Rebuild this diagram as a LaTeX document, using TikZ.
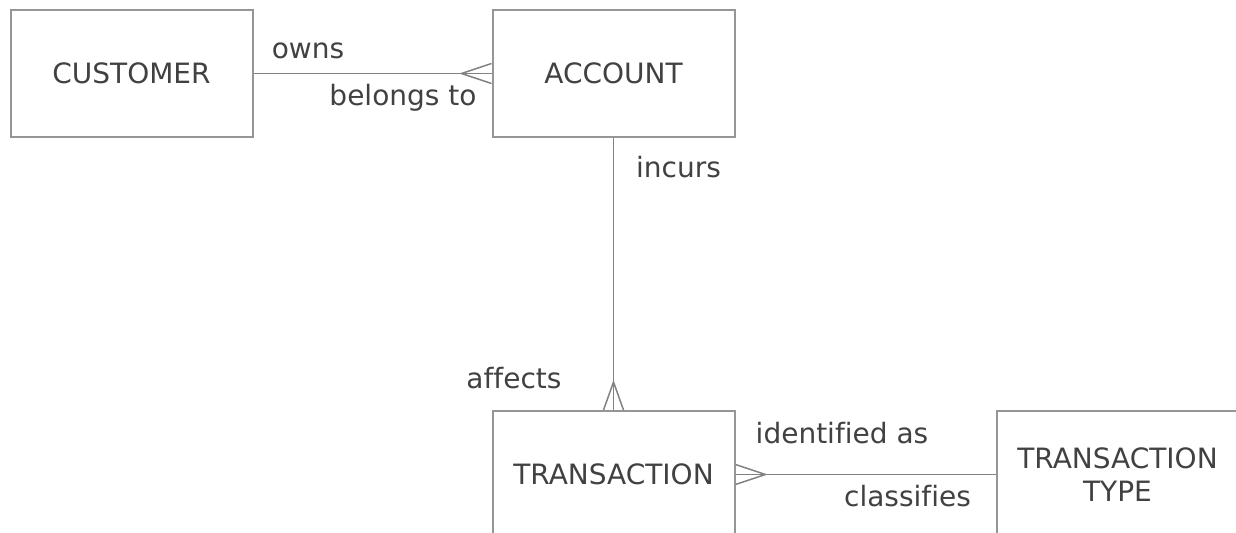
\documentclass[tikz,border=0pt]{standalone}
\usepackage{fontspec}
\setmainfont[Ligatures=NoCommon]{DejaVu Sans}
\usepackage{tikz}
\usetikzlibrary{positioning,calc}
\definecolor{boxcolor}{RGB}{150,150,150}
\definecolor{linecolor}{RGB}{130,130,130}
\definecolor{textcolor}{RGB}{65,65,65}

\begin{document}
\begin{tikzpicture}[
    entity/.style={rectangle, draw=boxcolor, line width=1pt, text=textcolor, font=\fontsize{14}{16.5}\selectfont, align=center, minimum width=121pt, minimum height=63.5pt},
    rolelabel/.style={text=textcolor, font=\fontsize{14}{16.5}\selectfont, anchor=base, inner sep=0pt},
    conn/.style={draw=linecolor, line width=0.75pt}
]
\useasboundingbox (0,0) rectangle (618pt,266pt);
\clip (0,0) rectangle (618pt,266pt);

% Entities
\node[entity] (cust) at (65.75pt,229.25pt) {CUSTOMER};
\node[entity, right=119pt of cust] (acc) {ACCOUNT};
\node[entity, below=136pt of acc] (trans) {TRANSACTION};
\node[entity, right=130pt of trans] (ttype) {TRANSACTION\\TYPE};

% Relationships
\draw[conn] (cust) -- (acc);
\draw[conn] (acc) -- (trans);
\draw[conn] (trans) -- (ttype);

% Crow's feet (many side)
\draw[conn] ([yshift=5pt]acc.west) -- ([xshift=-15pt]acc.west) -- ([yshift=-5pt]acc.west);
\draw[conn] ([xshift=-5pt]trans.north) -- ([yshift=14pt]trans.north) -- ([xshift=5pt]trans.north);
\draw[conn] ([yshift=5pt]trans.east) -- ([xshift=15pt]trans.east) -- ([yshift=-5pt]trans.east);

% Role labels
\node[rolelabel] (owns) at ([xshift=27.25pt,yshift=7.75pt]cust.east) {owns};
\node[rolelabel] (belongs) at ([xshift=-44.25pt,yshift=-15.75pt]acc.west) {belongs to};
\node[rolelabel] (incurs) at ([xshift=32.5pt,yshift=-19.5pt]acc.south) {incurs};
\node[rolelabel] (affects) at ([xshift=-49.75pt,yshift=11pt]trans.north) {affects};
\node[rolelabel] (identified) at ([xshift=53.25pt,yshift=15.75pt]trans.east) {identified as};
\node[rolelabel] (classifies) at ([xshift=-44pt,yshift=-15.75pt]ttype.west) {classifies};

\end{tikzpicture}
\end{document}
